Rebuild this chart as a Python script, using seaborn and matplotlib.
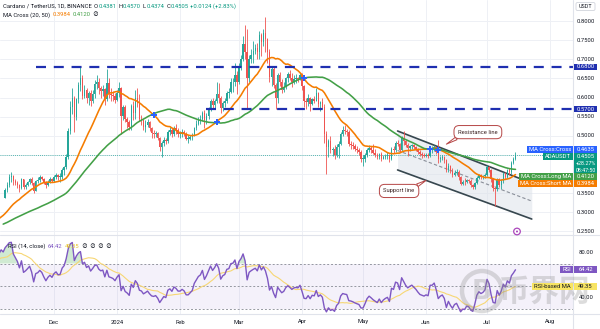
import numpy as np
import pandas as pd
import matplotlib
matplotlib.use("Agg")
import matplotlib.pyplot as plt
import matplotlib.dates as mdates
from matplotlib.patches import FancyBboxPatch, Rectangle, Circle
import seaborn as sns

sns.set_theme(style="white")
plt.rcParams["font.family"] = ["Roboto", "Noto Sans CJK SC", "DejaVu Sans"]

# ---------------------------------------------------------------- data
# daily closes before the first drawn candle (warm-up for SMA / RSI)
history_close = [
    0.247, 0.251, 0.249, 0.245, 0.246, 0.246, 0.244, 0.246, 0.245, 0.244,
    0.252, 0.255, 0.261, 0.268, 0.262, 0.262, 0.262, 0.258, 0.263, 0.263,
    0.260, 0.255, 0.253, 0.251, 0.249, 0.250, 0.250, 0.252, 0.258, 0.256,
    0.255, 0.256, 0.264, 0.268, 0.266, 0.283, 0.285, 0.291, 0.284, 0.280,
    0.286, 0.291, 0.298, 0.294, 0.306, 0.312, 0.308, 0.326, 0.340, 0.338,
]
first_day = "2023-11-07"
last_day = "2024-07-15"

close_nov = [0.358, 0.372, 0.392, 0.395, 0.381, 0.376, 0.371, 0.362, 0.386, 0.366, 0.371, 0.378,
             0.386, 0.376, 0.356, 0.381, 0.384, 0.392, 0.388, 0.379, 0.371, 0.380, 0.386, 0.382]
high_nov = [0.362, 0.378, 0.400, 0.404, 0.398, 0.386, 0.382, 0.375, 0.390, 0.388, 0.376, 0.381,
            0.389, 0.391, 0.378, 0.384, 0.392, 0.398, 0.395, 0.390, 0.382, 0.384, 0.392, 0.390]
low_nov = [0.336, 0.352, 0.366, 0.378, 0.372, 0.370, 0.362, 0.352, 0.360, 0.360, 0.360, 0.368,
           0.374, 0.370, 0.350, 0.355, 0.376, 0.380, 0.383, 0.375, 0.362, 0.368, 0.376, 0.378]

close_dec = [0.392, 0.397, 0.392, 0.393, 0.410, 0.418, 0.445, 0.512, 0.575, 0.600,
             0.548, 0.595, 0.632, 0.652, 0.605, 0.620, 0.598, 0.612, 0.590, 0.610,
             0.635, 0.640, 0.624, 0.617, 0.622, 0.596, 0.638, 0.610, 0.607, 0.603, 0.594]
high_dec = [0.396, 0.402, 0.400, 0.402, 0.415, 0.422, 0.452, 0.520, 0.590, 0.624,
            0.605, 0.600, 0.640, 0.680, 0.660, 0.632, 0.625, 0.618, 0.620, 0.620,
            0.646, 0.658, 0.650, 0.630, 0.632, 0.626, 0.675, 0.650, 0.625, 0.618, 0.612]
low_dec = [0.380, 0.388, 0.384, 0.380, 0.388, 0.398, 0.412, 0.440, 0.505, 0.556,
           0.510, 0.540, 0.585, 0.618, 0.595, 0.600, 0.585, 0.580, 0.578, 0.585,
           0.600, 0.622, 0.610, 0.600, 0.605, 0.580, 0.592, 0.598, 0.590, 0.590, 0.585]

close_jan = [0.612, 0.625, 0.552, 0.574, 0.545, 0.536, 0.522, 0.578, 0.560, 0.600,
             0.585, 0.545, 0.540, 0.522, 0.528, 0.535, 0.520, 0.508, 0.505, 0.508,
             0.495, 0.470, 0.480, 0.490, 0.485, 0.510, 0.515, 0.505, 0.520, 0.515, 0.505]
high_jan = [0.620, 0.640, 0.628, 0.580, 0.580, 0.550, 0.540, 0.582, 0.590, 0.620,
            0.625, 0.610, 0.555, 0.545, 0.540, 0.545, 0.538, 0.522, 0.515, 0.512,
            0.510, 0.498, 0.486, 0.498, 0.495, 0.514, 0.524, 0.520, 0.525, 0.530, 0.520]
low_jan = [0.590, 0.602, 0.505, 0.540, 0.535, 0.520, 0.515, 0.516, 0.540, 0.545,
           0.575, 0.538, 0.528, 0.515, 0.510, 0.522, 0.512, 0.495, 0.494, 0.498,
           0.490, 0.460, 0.445, 0.472, 0.478, 0.480, 0.502, 0.496, 0.500, 0.505, 0.498]

close_feb = [0.505, 0.510, 0.505, 0.492, 0.492, 0.497, 0.502, 0.520, 0.530, 0.540,
             0.545, 0.560, 0.540, 0.552, 0.570, 0.590, 0.580, 0.592, 0.610, 0.600,
             0.572, 0.585, 0.590, 0.612, 0.615, 0.640, 0.642, 0.660, 0.640]
high_feb = [0.512, 0.518, 0.515, 0.510, 0.502, 0.502, 0.506, 0.524, 0.540, 0.550,
            0.555, 0.566, 0.568, 0.560, 0.576, 0.596, 0.598, 0.596, 0.640, 0.638,
            0.605, 0.590, 0.600, 0.618, 0.625, 0.650, 0.652, 0.690, 0.670]
low_feb = [0.495, 0.498, 0.500, 0.488, 0.482, 0.488, 0.490, 0.500, 0.515, 0.528,
           0.532, 0.538, 0.520, 0.530, 0.545, 0.565, 0.570, 0.572, 0.585, 0.585,
           0.560, 0.565, 0.575, 0.585, 0.600, 0.612, 0.615, 0.630, 0.610]

close_mar = [0.680, 0.700, 0.740, 0.720, 0.650, 0.700, 0.712, 0.722, 0.730, 0.720,
             0.765, 0.745, 0.768, 0.752, 0.720, 0.655, 0.675, 0.632, 0.598, 0.660,
             0.640, 0.620, 0.628, 0.650, 0.662, 0.652, 0.640, 0.648, 0.650, 0.648, 0.660]
high_mar = [0.690, 0.712, 0.760, 0.790, 0.780, 0.712, 0.728, 0.748, 0.740, 0.742,
            0.775, 0.770, 0.780, 0.810, 0.755, 0.728, 0.680, 0.680, 0.638, 0.665,
            0.668, 0.648, 0.640, 0.655, 0.668, 0.672, 0.665, 0.660, 0.662, 0.655, 0.665]
low_mar = [0.635, 0.672, 0.695, 0.700, 0.570, 0.640, 0.690, 0.690, 0.715, 0.700,
           0.700, 0.710, 0.735, 0.720, 0.690, 0.640, 0.630, 0.625, 0.570, 0.585,
           0.630, 0.612, 0.615, 0.622, 0.640, 0.645, 0.628, 0.635, 0.638, 0.640, 0.645]

close_apr = [0.630, 0.590, 0.588, 0.600, 0.582, 0.595, 0.592, 0.612, 0.582, 0.588,
             0.576, 0.505, 0.470, 0.485, 0.462, 0.465, 0.450, 0.470, 0.478, 0.505,
             0.515, 0.512, 0.510, 0.478, 0.476, 0.472, 0.466, 0.462, 0.458, 0.440]
high_apr = [0.665, 0.632, 0.600, 0.610, 0.602, 0.600, 0.605, 0.625, 0.614, 0.592,
            0.598, 0.582, 0.512, 0.492, 0.500, 0.470, 0.475, 0.478, 0.485, 0.510,
            0.525, 0.528, 0.518, 0.515, 0.486, 0.484, 0.478, 0.474, 0.468, 0.462]
low_apr = [0.620, 0.575, 0.570, 0.578, 0.566, 0.580, 0.585, 0.590, 0.575, 0.566,
           0.570, 0.480, 0.400, 0.445, 0.455, 0.446, 0.438, 0.445, 0.442, 0.476,
           0.500, 0.505, 0.500, 0.474, 0.466, 0.465, 0.460, 0.455, 0.450, 0.432]

close_may = [0.440, 0.450, 0.462, 0.468, 0.462, 0.455, 0.450, 0.445, 0.452, 0.440,
             0.445, 0.448, 0.450, 0.438, 0.465, 0.462, 0.480, 0.478, 0.462, 0.495,
             0.485, 0.475, 0.468, 0.472, 0.475, 0.470, 0.465, 0.458, 0.452, 0.450, 0.448]
high_may = [0.450, 0.455, 0.468, 0.475, 0.472, 0.478, 0.465, 0.455, 0.456, 0.458,
            0.450, 0.452, 0.458, 0.452, 0.470, 0.472, 0.485, 0.490, 0.482, 0.500,
            0.512, 0.490, 0.480, 0.476, 0.478, 0.478, 0.474, 0.468, 0.462, 0.458, 0.455]
low_may = [0.420, 0.432, 0.445, 0.458, 0.455, 0.452, 0.445, 0.440, 0.438, 0.435,
           0.438, 0.440, 0.438, 0.432, 0.436, 0.456, 0.458, 0.472, 0.458, 0.460,
           0.475, 0.470, 0.448, 0.460, 0.466, 0.465, 0.460, 0.452, 0.448, 0.442, 0.444]

close_jun = [0.450, 0.448, 0.466, 0.466, 0.470, 0.458, 0.438, 0.442, 0.444, 0.436,
             0.410, 0.420, 0.407, 0.397, 0.403, 0.405, 0.391, 0.375, 0.379, 0.378,
             0.383, 0.381, 0.370, 0.366, 0.376, 0.390, 0.396, 0.392, 0.394, 0.398]
high_jun = [0.454, 0.455, 0.472, 0.472, 0.476, 0.470, 0.490, 0.448, 0.450, 0.448,
            0.438, 0.428, 0.424, 0.415, 0.410, 0.412, 0.410, 0.395, 0.385, 0.390,
            0.388, 0.386, 0.386, 0.375, 0.380, 0.394, 0.400, 0.400, 0.398, 0.402]
low_jun = [0.444, 0.442, 0.445, 0.456, 0.460, 0.452, 0.430, 0.432, 0.436, 0.430,
           0.405, 0.405, 0.402, 0.392, 0.395, 0.398, 0.385, 0.370, 0.372, 0.372,
           0.376, 0.376, 0.366, 0.360, 0.360, 0.374, 0.386, 0.386, 0.388, 0.390]

close_jul = [0.418, 0.410, 0.386, 0.362, 0.360, 0.386, 0.372, 0.382, 0.400, 0.392,
             0.410, 0.404, 0.428, 0.4381, 0.4505]
high_jul = [0.424, 0.420, 0.412, 0.390, 0.368, 0.390, 0.390, 0.386, 0.404, 0.406,
            0.414, 0.416, 0.434, 0.445, 0.4570]
low_jul = [0.395, 0.404, 0.380, 0.355, 0.315, 0.355, 0.365, 0.360, 0.376, 0.388,
           0.390, 0.398, 0.400, 0.426, 0.4374]

# horizontal resistance levels drawn with the dashed tool
level_prices = [0.68, 0.57]
level_starts = ["2023-11-22", "2024-02-14"]

# descending channel drawing (start / end anchors)
channel_dates = ["2024-05-18", "2024-07-23"]
channel_upper = [0.5125, 0.376]
channel_lower = [0.4105, 0.282]

price_ticks = [0.25, 0.30, 0.35, 0.40, 0.45, 0.50, 0.55, 0.60, 0.65, 0.70, 0.75, 0.80]
month_labels = ["Dec", "2024", "Feb", "Mar", "Apr", "May", "Jun", "Jul", "Aug"]
month_starts = ["2023-12-01", "2024-01-01", "2024-02-01", "2024-03-01", "2024-04-01",
                "2024-05-01", "2024-06-01", "2024-07-01", "2024-08-01"]

# ---------------------------------------------------------------- series
close = np.array(close_nov + close_dec + close_jan + close_feb + close_mar +
                 close_apr + close_may + close_jun + close_jul)
high = np.array(high_nov + high_dec + high_jan + high_feb + high_mar +
                high_apr + high_may + high_jun + high_jul)
low = np.array(low_nov + low_dec + low_jan + low_feb + low_mar +
               low_apr + low_may + low_jun + low_jul)
dates = pd.date_range(first_day, last_day, freq="D")
opn = np.concatenate([[history_close[-1]], close[:-1]])
high = np.maximum(high, np.maximum(opn, close))
low = np.minimum(low, np.minimum(opn, close))

all_close = pd.Series(np.concatenate([history_close, close]))
all_dates = pd.date_range(end=last_day, periods=len(all_close), freq="D")
sma20 = all_close.rolling(20).mean()
sma50 = all_close.rolling(50).mean()
delta = all_close.diff()
gain = delta.clip(lower=0).ewm(alpha=1 / 14, adjust=False).mean()
loss = (-delta.clip(upper=0)).ewm(alpha=1 / 14, adjust=False).mean()
rsi = 100 - 100 / (1 + gain / loss)
rsi_ma = rsi.rolling(14).mean()

xd = mdates.date2num(dates)
xall = mdates.date2num(all_dates)
ind = pd.DataFrame({"x": xall, "sma20": sma20, "sma50": sma50, "rsi": rsi, "rsi_ma": rsi_ma})

# ---------------------------------------------------------------- layout
W, H = 600, 329
fig = plt.figure(figsize=(W / 100, H / 100), dpi=100)
fig.patch.set_facecolor("white")


def px_axes(x0, y0, x1, y1, **kw):
    return fig.add_axes([x0 / W, 1 - y1 / H, (x1 - x0) / W, (y1 - y0) / H], **kw)


PLOT_R = 573
ax = px_axes(0, 0, PLOT_R, 235)
ax_rsi = px_axes(0, 235, PLOT_R, 314)

dec1 = mdates.date2num(pd.Timestamp("2023-12-01"))
ppd = 2.033
xlim = (dec1 - 54 / ppd, dec1 + (PLOT_R - 54) / ppd)
for a in (ax, ax_rsi):
    a.set_xlim(*xlim)
    a.set_xticks([])
    a.set_yticks([])
    for s in a.spines.values():
        s.set_visible(False)
    a.set_facecolor("none")
ax.set_ylim(0.68 - (235 - 67) / 382, 0.68 + 67 / 382)
ax_rsi.set_ylim(50 - 28 / 1.125, 50 + 51 / 1.125)

GRID = "#eef0f5"
for m in month_starts:
    xm = mdates.date2num(pd.Timestamp(m))
    ax.axvline(xm, color=GRID, lw=0.7, zorder=0)
    ax_rsi.axvline(xm, color=GRID, lw=0.7, zorder=0)
for p in price_ticks:
    ax.axhline(p, color=GRID, lw=0.7, zorder=0)

UP, DOWN = "#26a69a", "#ef5350"
cols = np.where(close >= opn, UP, DOWN)

# descending channel
cx = mdates.date2num(pd.to_datetime(channel_dates))
ax.fill_between(cx, channel_lower, channel_upper, color="#dde2ea", alpha=0.55, lw=0, zorder=1)
ax.plot(cx, channel_upper, color="#37474f", lw=1.2, zorder=2)
ax.plot(cx, channel_lower, color="#37474f", lw=1.2, zorder=2)
ax.plot(cx, [(u + l) / 2 for u, l in zip(channel_upper, channel_lower)],
        color="#8a8f99", lw=0.8, ls=(0, (3, 2)), zorder=2)

# candles
ax.vlines(xd, low, high, colors=cols, lw=0.6, zorder=3)
body = np.maximum(np.abs(close - opn), 0.0015)
ax.bar(xd, body, bottom=np.minimum(opn, close), width=0.72, color=cols, lw=0, zorder=4)

# moving averages
sns.lineplot(data=ind, x="x", y="sma20", ax=ax, color="#f57c00", lw=1.15, estimator=None, zorder=5)
sns.lineplot(data=ind, x="x", y="sma50", ax=ax, color="#43a047", lw=1.15, estimator=None, zorder=5)
ax.set_xlabel("")
ax.set_ylabel("")

# crossing markers of the two averages
diff = (sma20 - sma50).values
first_x = mdates.date2num(pd.Timestamp(first_day))
cross_idx = [i for i in range(1, len(diff))
             if np.isfinite(diff[i - 1]) and np.isfinite(diff[i])
             and np.sign(diff[i]) != np.sign(diff[i - 1]) and xall[i] >= first_x]
ax.scatter(xall[cross_idx], sma20.values[cross_idx], marker="P", s=14, color="#2962ff",
           lw=0, zorder=6)

# dashed horizontal levels
for lvl, st in zip(level_prices, level_starts):
    ax.hlines(lvl, mdates.date2num(pd.Timestamp(st)), xlim[1], colors="#1f2fb0",
              lw=1.6, linestyles=(0, (4.5, 3.5)), zorder=5)

# last price line
ax.axhline(close[-1], color="#26a69a", lw=0.6, ls=(0, (1, 1.5)), zorder=2)

# callouts
ax.annotate("Resistance line", xy=(mdates.date2num(pd.Timestamp("2024-06-11")), 0.478),
            xytext=(mdates.date2num(pd.Timestamp("2024-06-26 12:00")), 0.5095),
            fontsize=4.2, color="#3d2424", ha="center", va="center", zorder=8,
            bbox=dict(boxstyle="round,pad=0.7,rounding_size=0.9", fc="white", ec="#b54545", lw=0.7),
            arrowprops=dict(arrowstyle="wedge,tail_width=0.5,shrink_factor=0.5", fc="white",
                            ec="#b54545", lw=0.7, relpos=(0.12, 0.0), shrinkA=0, shrinkB=0))
ax.annotate("Support line", xy=(mdates.date2num(pd.Timestamp("2024-06-01")), 0.383),
            xytext=(mdates.date2num(pd.Timestamp("2024-05-18 18:00")), 0.3555),
            fontsize=4.2, color="#3d2424", ha="center", va="center", zorder=8,
            bbox=dict(boxstyle="round,pad=0.7,rounding_size=0.9", fc="white", ec="#b54545", lw=0.7),
            arrowprops=dict(arrowstyle="wedge,tail_width=0.5,shrink_factor=0.5", fc="white",
                            ec="#b54545", lw=0.7, relpos=(0.9, 1.0), shrinkA=0, shrinkB=0))

# ---------------------------------------------------------------- RSI pane
ax_rsi.axhspan(30, 70, color="#7e57c2", alpha=0.08, lw=0, zorder=0)
for lv in (70, 50, 30):
    ax_rsi.axhline(lv, color="#9598a1", lw=0.7, ls=(0, (2, 2)), zorder=1)
r = rsi.values
ax_rsi.fill_between(xall, 70, r, where=r > 70, interpolate=True, color="#66bb6a", alpha=0.3, lw=0, zorder=1)
ax_rsi.fill_between(xall, 30, r, where=r < 30, interpolate=True, color="#ef5350", alpha=0.3, lw=0, zorder=1)
sns.lineplot(data=ind, x="x", y="rsi_ma", ax=ax_rsi, color="#f7d774", lw=0.8, estimator=None, zorder=2)
sns.lineplot(data=ind, x="x", y="rsi", ax=ax_rsi, color="#7e57c2", lw=1.0, estimator=None, zorder=3)
ax_rsi.set_xlabel("")
ax_rsi.set_ylabel("")

# ---------------------------------------------------------------- overlay (pixel space)
ov = fig.add_axes([0, 0, 1, 1], zorder=20)
ov.set_xlim(0, W)
ov.set_ylim(H, 0)
ov.axis("off")
ov.patch.set_alpha(0)
renderer = fig.canvas.get_renderer()

TXT = "#131722"
FS = 4.2


def ypx(a, v):
    return H - a.transData.transform((xlim[0], v))[1]


def xpx(a, x):
    return a.transData.transform((x, 0))[0]


def chain(x, y, pieces, size=FS):
    for s, c, g in pieces:
        t = ov.text(x, y, s, color=c, fontsize=size, va="center", ha="left")
        x = t.get_window_extent(renderer).x1 + g
    return x


# panel separators
ov.plot([0, W], [235, 235], color="#e0e3eb", lw=0.8)
ov.plot([0, W], [314, 314], color="#e0e3eb", lw=0.8)
ov.plot([PLOT_R, PLOT_R], [0, 329], color="#e0e3eb", lw=0.8)

# header lines
chg = close[-1] - close[-2]
pct = chg / close[-2] * 100
TEAL = "#089981"
chain(3, 6, [("Cardano / TetherUS, 1D, BINANCE", TXT, 2.2),
             ("O", TXT, 0.3), (f"{opn[-1]:.4f}", TEAL, 2.0),
             ("H", TXT, 0.3), (f"{high[-1]:.4f}", TEAL, 2.0),
             ("L", TXT, 0.3), (f"{low[-1]:.4f}", TEAL, 2.0),
             ("C", TXT, 0.3), (f"{close[-1]:.4f}", TEAL, 2.0),
             (f"{chg:+.4f} ({pct:+.2f}%)", TEAL, 2.0)])
chain(3, 15, [("MA Cross (20, 50)", TXT, 2.2), (f"{sma20.values[-1]:.4f}", "#f57c00", 2.2),
              (f"{sma50.values[-1]:.4f}", "#43a047", 2.2), ("\u2205", TXT, 2.2)])
chain(8, 246, [("RSI (14, close)", TXT, 2.2), (f"{rsi.values[-1]:.2f}", "#7e57c2", 2.2),
               (f"{rsi_ma.values[-1]:.2f}", "#e6c229", 2.2), ("\u2205", TXT, 2.2),
               ("\u2205", TXT, 2.2), ("\u2205", TXT, 2.2), ("\u2205", TXT, 2.2)])

# price scale labels
for p in price_ticks:
    ov.text(586, ypx(ax, p), f"{p:.4f}", fontsize=FS, color=TXT, ha="center", va="center")
for v in (80, 40):
    ov.text(586, ypx(ax_rsi, v), f"{v:.2f}", fontsize=FS, color=TXT, ha="center", va="center")


def axis_box(y, val, color, name=None, tcol="white", h=6.8, lines=None):
    top = y - h / 2
    nlines = 1 if lines is None else len(lines)
    ov.add_patch(Rectangle((574, top), 23, h * nlines, fc=color, ec="none", zorder=30))
    ov.text(585.5, y, val, fontsize=FS, color=tcol, ha="center", va="center", zorder=31)
    if lines:
        for k, s in enumerate(lines[1:], start=1):
            ov.text(585.5, y + k * h, s, fontsize=FS - 0.3, color=tcol, ha="center",
                    va="center", zorder=31)
    if name:
        t = ov.text(571, y, name, fontsize=FS, color=tcol, ha="right", va="center", zorder=31)
        bb = t.get_window_extent(renderer)
        ov.add_patch(Rectangle((bb.x0 - 2, top), 573 - bb.x0 + 2, h, fc=color, ec="none", zorder=30))
    return top + h * nlines


for lvl in level_prices:
    axis_box(ypx(ax, lvl), f"{lvl:.4f}", "#1f2fb0")

last_cross = sma20.values[cross_idx[-1]] if cross_idx else close[-1]
y_cross = ypx(ax, last_cross)
bottom = axis_box(y_cross, f"{last_cross:.4f}", "#2962ff", "MA Cross:Cross")
y_last = max(ypx(ax, close[-1]), bottom + 3.4)
bottom = axis_box(y_last, f"{close[-1]:.4f}", TEAL, "ADAUSDT",
                  lines=[f"{close[-1]:.4f}", "+28.27%", "08:47:50"])
y_long = max(ypx(ax, sma50.values[-1]), bottom + 3.4)
bottom = axis_box(y_long, f"{sma50.values[-1]:.4f}", "#43a047", "MA Cross:Long MA")
y_short = max(ypx(ax, sma20.values[-1]), bottom + 3.4)
axis_box(y_short, f"{sma20.values[-1]:.4f}", "#f57c00", "MA Cross:Short MA")

y_rsi = ypx(ax_rsi, rsi.values[-1])
b = axis_box(y_rsi, f"{rsi.values[-1]:.2f}", "#7e57c2", "RSI")
y_rma = max(ypx(ax_rsi, rsi_ma.values[-1]), b + 3.4)
axis_box(y_rma, f"{rsi_ma.values[-1]:.2f}", "#f7e463", "RSI-based MA", tcol=TXT)

# currency box
ov.add_patch(FancyBboxPatch((576, 2.5), 19, 8, boxstyle="round,pad=0,rounding_size=1.5",
                            fc="white", ec="#d1d4dc", lw=0.6, zorder=30))
ov.text(585.5, 6.5, "USDT", fontsize=FS - 0.3, color=TXT, ha="center", va="center", zorder=31)

# month labels
for lab, m in zip(month_labels, month_starts):
    ov.text(xpx(ax, mdates.date2num(pd.Timestamp(m))), 322, lab, fontsize=FS, color=TXT,
            ha="center", va="center")

# events marker near the time scale
ov.add_patch(Circle((517, 231.5), 3.3, fc="white", ec="#ab47bc", lw=0.9, zorder=25))
ov.add_patch(Circle((517, 231.5), 1.0, fc="#ab47bc", ec="none", zorder=26))

# watermark
ov.add_patch(Circle((482, 291), 20, fc="none", ec="#8c8c8c", lw=3.2, alpha=0.3, zorder=24))
ov.text(482, 292, "B", fontsize=19, fontweight="bold", color="#8c8c8c", alpha=0.3,
        ha="center", va="center", family=["DejaVu Sans"], zorder=24)
ov.text(545, 292, "币界网", fontsize=22, fontweight="bold", color="#8c8c8c", alpha=0.3,
        ha="center", va="center", family=["Noto Sans CJK SC", "DejaVu Sans"], zorder=24)

fig.savefig("out.png", dpi=100)
